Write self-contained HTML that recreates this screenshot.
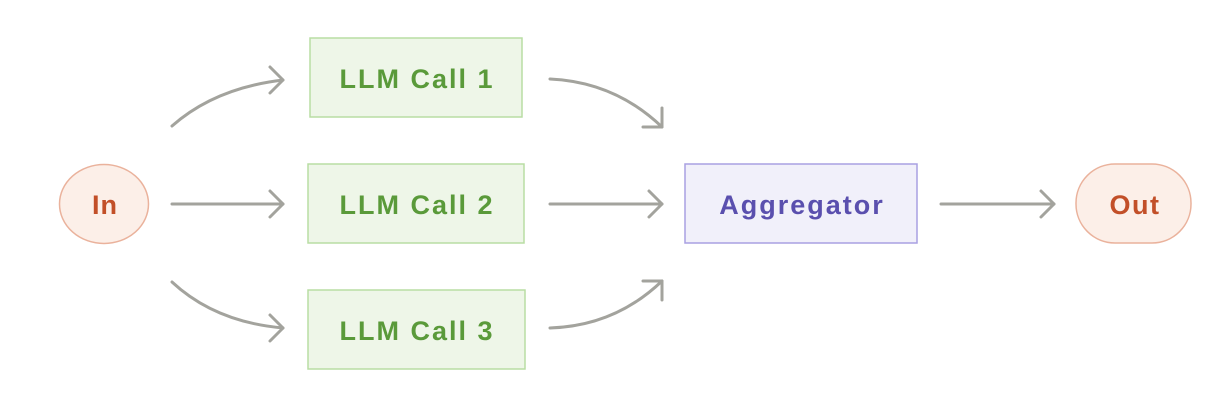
<!DOCTYPE html>
<html><head><style>
html,body{margin:0;padding:0;background:#fff;}
body{width:1227px;height:401px;overflow:hidden;}
</style></head><body>
<svg width="1227" height="401" viewBox="0 0 1227 401" xmlns="http://www.w3.org/2000/svg" font-family="Liberation Sans, sans-serif" font-weight="bold">
<g fill="none" stroke="#a3a39d" stroke-width="3" stroke-linecap="round" stroke-linejoin="round">
  <path d="M172 126 Q215 88 283 80"/>
  <path d="M270 67 L283 80 L270 93"/>
  <path d="M172 204 L283 204"/>
  <path d="M270 191 L283 204 L270 217"/>
  <path d="M172 282 Q215 322 283 328"/>
  <path d="M270 315 L283 328 L270 341"/>
  <path d="M550 79 Q615 82 662 127"/>
  <path d="M662 108 L662 127 L643 127"/>
  <path d="M550 204 L662 204"/>
  <path d="M649 191 L662 204 L649 217"/>
  <path d="M550 328 Q615 326 662 281"/>
  <path d="M643 281 L662 281 L662 300"/>
  <path d="M941 204 L1054 204"/>
  <path d="M1041 191 L1054 204 L1041 217"/>
</g>
<ellipse cx="104" cy="204" rx="44.5" ry="39.5" fill="#fcefe8" stroke="#eab29c" stroke-width="1.5"/>
<text x="105" y="214" text-anchor="middle" font-size="27" letter-spacing="1" fill="#c24f28">In</text>
<rect x="310" y="38" width="212" height="79" fill="#eef6e8" stroke="#b9dda4" stroke-width="1.5"/>
<text x="417" y="88" text-anchor="middle" font-size="27" letter-spacing="2" fill="#5a9a3a">LLM Call 1</text>
<rect x="308" y="164" width="216" height="79" fill="#eef6e8" stroke="#b9dda4" stroke-width="1.5"/>
<text x="417" y="214" text-anchor="middle" font-size="27" letter-spacing="2" fill="#5a9a3a">LLM Call 2</text>
<rect x="308" y="290" width="217" height="79" fill="#eef6e8" stroke="#b9dda4" stroke-width="1.5"/>
<text x="417" y="340" text-anchor="middle" font-size="27" letter-spacing="2" fill="#5a9a3a">LLM Call 3</text>
<rect x="685" y="164" width="232" height="79" fill="#f1f0fa" stroke="#a9a0e2" stroke-width="1.5"/>
<text x="802" y="214" text-anchor="middle" font-size="27" letter-spacing="2" fill="#5a4fae">Aggregator</text>
<rect x="1076" y="164" width="115" height="79" rx="39" fill="#fcefe8" stroke="#eab29c" stroke-width="1.5"/>
<text x="1135" y="214" text-anchor="middle" font-size="27" letter-spacing="1.5" fill="#c24f28">Out</text>
</svg>
</body></html>
